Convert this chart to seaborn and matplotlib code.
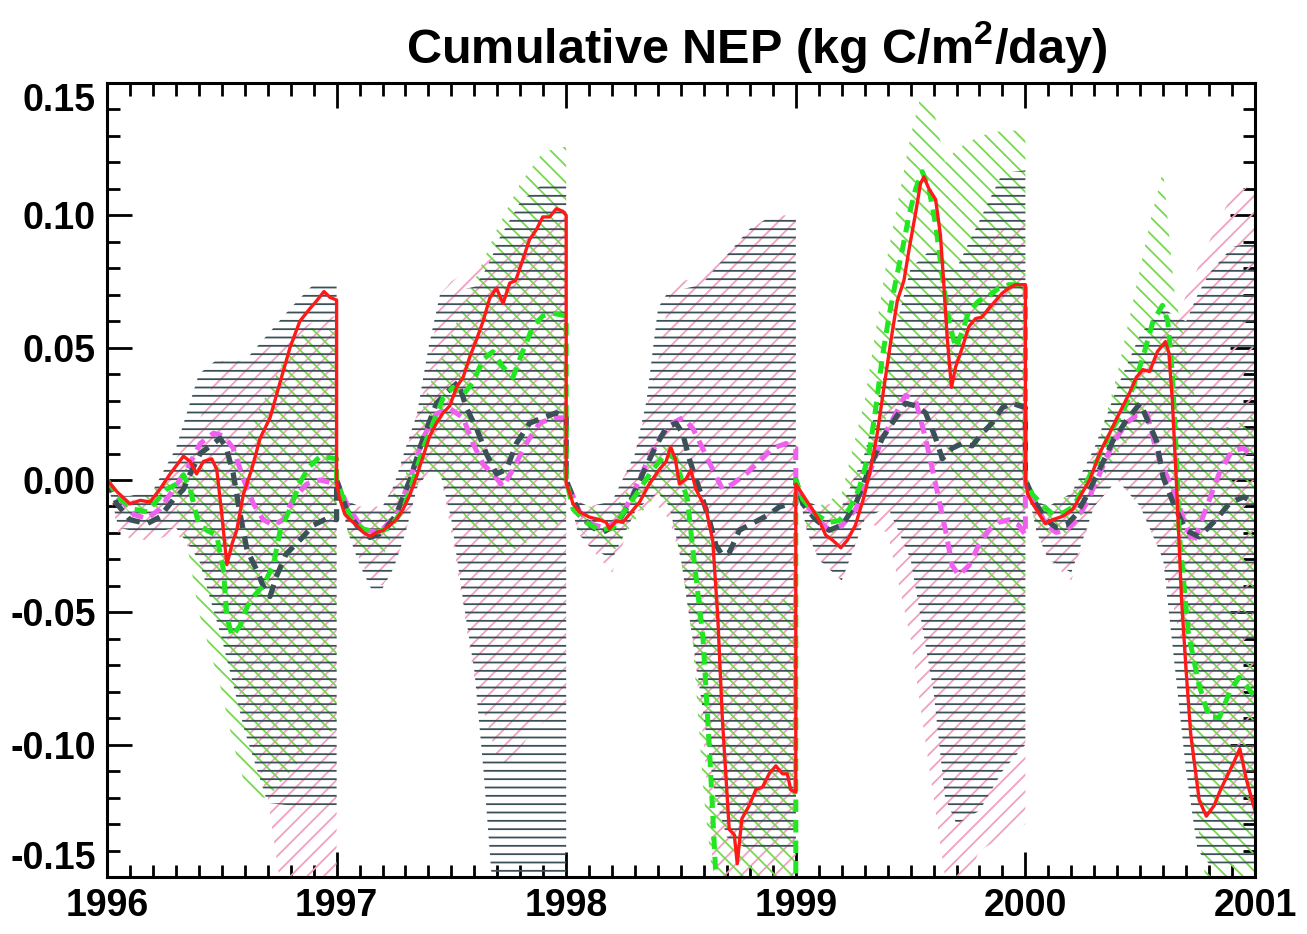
import numpy as np
import pandas as pd
import matplotlib
matplotlib.use("Agg")
import matplotlib.pyplot as plt
import seaborn as sns
from matplotlib.ticker import MultipleLocator


def seg(year, offsets):
    return [year + t for t in offsets]


# ---------------- line series (time, value) ----------------
RED_T = (seg(1996, [0, .043, .10, .145, .188, .23, .275, .333, .362, .39, .42, .456, .478, .50, .522, .545, .565, .594, .63, .667, .71, .754, .797, .84, .884, .913, .945, .971, 1.0])
         + seg(1997, [0, .01, .036, .058, .087, .116, .145, .174, .203, .232, .26, .29, .32, .348, .377, .406, .435, .464, .493, .522, .551, .58, .609, .638, .667, .696, .725, .754, .78, .81, .84, .87, .898, .928, .957, .986, 1.0])
         + seg(1998, [0, .03, .058, .10, .145, .174, .188, .217, .246, .275, .32, .362, .406, .435, .455, .475, .493, .522, .543, .565, .609, .638, .66, .68, .71, .732, .745, .765, .797, .826, .855, .884, .913, .942, .963, .978, 1.0])
         + seg(1999, [0, .015, .043, .072, .10, .13, .16, .196, .225, .26, .297, .326, .355, .384, .413, .442, .471, .493, .522, .543, .558, .58, .609, .630, .645, .659, .678, .696, .725, .754, .783, .81, .84, .87, .899, .928, .957, 1.0])
         + seg(2000, [0, .01, .032, .061, .087, .119, .163, .207, .25, .28, .323, .367, .41, .454, .483, .512, .541, .575, .61, .625, .64, .66, .68, .70, .72, .757, .788, .822, .85, .878, .906, .934, .962, 1.0]))
RED_V = ([0, -.0044, -.009, -.0077, -.0083, -.0035, .0023, .009, .007, .0023, .007, .008, .004, -.013, -.032, -.024, -.019, -.0054, .004, .0158, .0235, .037, .050, .060, .0648, .0677, .0712, .0690, .068]
         + [0, -.006, -.013, -.015, -.017, -.0198, -.0213, -.0198, -.019, -.017, -.015, -.011, -.0054, .0013, .009, .0167, .0215, .0254, .028, .035, .0388, .0465, .053, .060, .0687, .0725, .0667, .0744, .0754, .083, .0908, .0946, .0994, .0994, .1025, .1015, .100]
         + [-.001, -.009, -.012, -.014, -.015, -.016, -.0185, -.0154, -.016, -.013, -.0083, -.0015, .004, .007, .0125, .008, -.0015, .0004, .0038, -.0035, -.011, -.0227, -.0515, -.09, -.132, -.134, -.145, -.128, -.123, -.117, -.116, -.111, -.108, -.111, -.111, -.117, -.118]
         + [-.0015, -.0035, -.0073, -.011, -.015, -.0208, -.0227, -.0256, -.0227, -.017, -.0063, .0042, .0177, .035, .052, .0677, .0754, .087, .101, .112, .1145, .110, .106, .0925, .0735, .0542, .035, .0427, .050, .058, .061, .0615, .0648, .0677, .0706, .0725, .0738, .0738]
         + [0, -.0054, -.009, -.013, -.0165, -.015, -.0137, -.011, -.0044, 0, .01, .0177, .0254, .033, .0388, .0417, .041, .0485, .0523, .048, .030, -.005, -.045, -.072, -.096, -.121, -.127, -.123, -.117, -.112, -.107, -.1015, -.113, -.125])

GREEN_T = (seg(1996, [0, .058, .116, .174, .26, .304, .333, .362, .40, .435, .478, .507, .522, .545, .58, .61, .638, .68, .725, .754, .797, .84, .88, .93, 1.0])
           + seg(1997, [0, .058, .116, .174, .232, .29, .333, .377, .42, .464, .507, .55, .594, .638, .68, .725, .768, .81, .855, .898, .942, 1.0])
           + seg(1998, [0, .03, .087, .145, .203, .26, .32, .377, .435, .478, .507, .528, .55, .57, .596, .626, .652, .67, .75, 1.0])
           + seg(1999, [0, .03, .087, .145, .188, .232, .275, .319, .348, .377, .406, .435, .464, .493, .522, .551, .58, .609, .638, .667, .696, .725, .754, .797, .84, .884, .928, 1.0])
           + seg(2000, [0, .03, .076, .12, .163, .207, .25, .294, .338, .381, .425, .469, .512, .556, .597, .62, .64, .66, .67, .71, .755, .80, .845, .89, .93, .965, 1.0]))
GREEN_V = ([0, -.0073, -.011, -.012, -.0035, -.0015, .002, -.0035, -.017, -.019, -.021, -.034, -.0515, -.059, -.055, -.048, -.044, -.040, -.032, -.019, -.011, -.001, .005, .009, .008]
           + [0, -.014, -.0185, -.0198, -.018, -.011, 0, .012, .0215, .031, .035, .032, .037, .0456, .0485, .0427, .0388, .0485, .058, .062, .063, .062]
           + [0, -.011, -.016, -.019, -.018, -.011, -.0035, .004, .010, .008, -.0015, -.0073, -.025, -.040, -.060, -.105, -.150, -.170, -.190, -.190]
           + [0, -.0073, -.013, -.016, -.0154, -.011, -.0035, .010, .027, .0465, .062, .075, .087, .100, .110, .1165, .110, .0965, .077, .060, .050, .056, .0638, .0677, .0696, .0725, .0738, .0738]
           + [0, -.0054, -.0096, -.013, -.0125, -.0102, -.0035, .004, .012, .0196, .026, .035, .0465, .060, .066, .060, .040, .005, -.020, -.058, -.077, -.0897, -.0897, -.080, -.0746, -.078, -.082])

SLATE_T = (seg(1996, [0, .043, .10, .174, .23, .29, .333, .362, .406, .45, .493, .52, .55, .58, .61, .652, .68, .71, .74, .78, .84, .90, .957, 1.0])
           + seg(1997, [0, .043, .087, .145, .203, .26, .319, .377, .435, .478, .53, .565, .609, .652, .696, .74, .783, .841, .899, .957, 1.0])
           + seg(1998, [0, .058, .116, .159, .217, .275, .333, .391, .435, .478, .507, .536, .58, .623, .652, .681, .71, .754, .797, .841, .884, .928, .971, 1.0])
           + seg(1999, [0, .03, .087, .145, .203, .261, .319, .377, .435, .478, .522, .565, .609, .638, .681, .725, .768, .812, .855, .899, .942, 1.0])
           + seg(2000, [0, .046, .09, .134, .178, .222, .265, .323, .381, .44, .50, .57, .60, .65, .70, .757, .83, .89, .95, 1.0]))
SLATE_V = ([0, -.009, -.015, -.0165, -.014, -.0073, -.0035, .0023, .010, .0129, .0158, .012, .0023, -.013, -.0265, -.034, -.040, -.044, -.036, -.028, -.0227, -.017, -.0146, -.015]
           + [0, -.011, -.017, -.0217, -.0198, -.013, 0, .0158, .029, .033, .037, .0273, .0196, .010, .0023, .004, .0138, .0215, .0235, .0254, .0235]
           + [0, -.013, -.018, -.0198, -.017, -.009, .0023, .0129, .0196, .0215, .0177, .008, -.0035, -.015, -.0246, -.0285, -.0275, -.019, -.017, -.015, -.013, -.0102, -.009, -.009]
           + [0, -.009, -.015, -.019, -.017, -.009, .004, .0158, .0235, .029, .028, .0254, .0158, .008, .012, .0138, .0129, .0177, .0215, .0273, .029, .0273]
           + [0, -.009, -.015, -.018, -.017, -.013, -.0063, .004, .0148, .0225, .029, .015, .001, -.010, -.019, -.0215, -.015, -.0087, -.0064, -.0087])

MAGENTA_T = (seg(1996, [0, .058, .116, .174, .23, .29, .348, .406, .464, .507, .55, .594, .638, .68, .725, .768, .81, .87, .927, 1.0])
             + seg(1997, [0, .043, .116, .188, .26, .319, .377, .435, .493, .551, .594, .638, .681, .725, .768, .826, .884, .942, 1.0])
             + seg(1998, [0, .058, .116, .174, .232, .29, .348, .406, .464, .507, .551, .594, .638, .681, .725, .783, .841, .899, .957, 1.0])
             + seg(1999, [0, .03, .087, .145, .203, .261, .319, .377, .435, .478, .522, .565, .609, .652, .681, .71, .754, .797, .841, .884, .928, .971, 1.0])
             + seg(2000, [0, .046, .09, .134, .178, .222, .265, .323, .381, .44, .483, .53, .57, .61, .65, .69, .73, .79, .845, .90, .95, 1.0]))
MAGENTA_V = ([0, -.0073, -.013, -.0146, -.011, -.0035, .004, .0138, .0177, .0167, .012, .0004, -.009, -.015, -.017, -.015, -.0073, -.0015, 0, -.0015]
             + [0, -.009, -.019, -.0198, -.013, 0, .016, .025, .027, .0235, .0138, .006, .0023, -.0025, .004, .0138, .0215, .0235, .0235]
             + [0, -.012, -.017, -.018, -.015, -.0054, .006, .0158, .0215, .0235, .0196, .012, .004, -.0035, -.0015, .0023, .007, .012, .0138, .012]
             + [-.003, -.0073, -.014, -.019, -.017, -.011, .0023, .0158, .025, .032, .030, .0158, -.0015, -.019, -.0323, -.036, -.0323, -.0246, -.019, -.016, -.015, -.017, -.0208]
             + [0, -.009, -.017, -.0198, -.019, -.015, -.009, .0023, .0138, .0215, .0244, .025, .011, .0027, -.005, -.015, -.024, -.010, .0027, .011, .012, .008])

# ---------------- ensemble ranges (time, low, high) ----------------
GRAY_T = (seg(1996, [0, .05, .1, .2, .3, .4, .5, .6, .7, .8, .9, 1.0])
          + seg(1997, [0, .05, .1, .15, .2, .25, .3, .35, .4, .45, .5, .55, .6, .64, .68, .7, .8, .9, 1.0])
          + seg(1998, [0, .05, .1, .2, .3, .35, .4, .45, .5, .55, .6, .65, .7, .8, .9, 1.0])
          + seg(1999, [0, .05, .1, .2, .3, .4, .5, .6, .65, .7, .8, .9, 1.0])
          + seg(2000, [0, .05, .1, .2, .3, .4, .5, .6, .65, .7, .75, .8, .9, 1.0]))
GRAY_HI = ([0, -.006, -.006, -.004, .012, .040, .047, .045, .055, .065, .074, .075]
           + [0, -.008, -.010, -.010, -.010, -.002, .012, .025, .050, .070, .072, .072, .073, .078, .085, .090, .105, .112, .112]
           + [0, -.008, -.010, -.008, .010, .030, .065, .072, .072, .073, .075, .080, .085, .095, .100, .100]
           + [0, -.008, -.010, -.010, .010, .045, .080, .088, .082, .080, .098, .116, .117]
           + [0, -.008, -.010, -.005, .012, .035, .055, .065, .062, .060, .070, .078, .088, .090])
GRAY_LO = ([0, -.018, -.019, -.020, -.018, -.030, -.060, -.095, -.122, -.123, -.123, -.123]
           + [0, -.020, -.032, -.041, -.041, -.033, -.020, -.003, .003, .003, -.015, -.045, -.072, -.110, -.155, -.160, -.160, -.160, -.160]
           + [0, -.020, -.025, -.030, -.012, -.008, -.005, -.010, -.030, -.060, -.090, -.120, -.135, -.140, -.140, -.140]
           + [0, -.020, -.030, -.038, -.015, -.010, -.030, -.080, -.120, -.130, -.125, -.110, -.100]
           + [0, -.020, -.030, -.035, -.010, 0, -.010, -.030, -.070, -.110, -.140, -.145, -.145, -.145])

GREENBAND_T = (seg(1996, [0, .1, .2, .25, .3, .35, .4, .45, .5, .55, .6, .65, .7, .75, .8, .85, .9, .95, 1.0])
               + seg(1997, [0, .05, .1, .2, .3, .4, .5, .6, .7, .8, .9, 1.0])
               + seg(1998, [0, .05, .1, .2, .3, .4, .45, .5, .55, .6, .65, .7, .8, .9, 1.0])
               + seg(1999, [0, .05, .1, .2, .3, .4, .5, .55, .6, .65, .7, .8, .9, 1.0])
               + seg(2000, [0, .05, .1, .2, .3, .4, .5, .55, .6, .65, .7, .75, .8, .9, 1.0]))
GREENBAND_HI = ([0, -.009, -.004, -.001, .000, .005, .005, .005, .006, .010, .015, .025, .033, .042, .050, .055, .058, .058, .055]
                + [0, -.008, -.012, -.012, .002, .035, .055, .075, .095, .112, .124, .126]
                + [0, -.008, -.010, -.012, .000, .012, .015, .010, -.002, -.015, -.030, -.035, -.045, -.045, -.045]
                + [0, -.008, -.010, -.005, .030, .085, .130, .147, .140, .120, .125, .130, .132, .132]
                + [0, -.008, -.010, -.005, .008, .040, .080, .100, .117, .070, .050, .025, .020, .020, .025])
GREENBAND_LO = ([0, -.013, -.012, -.008, -.010, -.025, -.050, -.065, -.080, -.100, -.115, -.120, -.120, -.115, -.110, -.105, -.100, -.095, -.095]
                + [0, -.020, -.027, -.029, -.010, .005, -.005, -.020, -.030, -.025, -.020, -.015]
                + [0, -.018, -.022, -.028, -.015, -.005, -.010, -.030, -.060, -.120, -.160, -.160, -.160, -.160, -.160]
                + [0, -.018, -.020, -.020, .000, .025, .035, .035, .025, .015, -.005, -.030, -.045, -.050]
                + [0, -.018, -.020, -.020, -.005, .010, .020, .025, .020, -.020, -.080, -.130, -.160, -.160, -.160])

PINK_T = (seg(1996, [0, .05, .1, .2, .3, .4, .5, .6, .7, .75, .8, .9, 1.0])
          + seg(1997, [0, .05, .1, .15, .2, .25, .3, .35, .4, .45, .5, .55, .6, .7, .75, .85, 1.0])
          + seg(1998, [0, .05, .1, .2, .3, .4, .45, .5, .55, .6, .65, .7, .8, .9, 1.0])
          + seg(1999, [0, .05, .1, .2, .3, .4, .5, .6, .65, .7, .8, .9, 1.0])
          + seg(2000, [0, .05, .1, .2, .3, .4, .5, .6, .65, .7, .8, .9, 1.0]))
PINK_HI = ([0, -.006, -.008, -.005, .008, .022, .045, .045, .050, .052, .055, .060, .062]
           + [0, -.008, -.010, -.010, -.010, -.002, .010, .025, .040, .070, .075, .078, .080, .085, .087, .092, .100]
           + [0, -.008, -.010, -.008, .010, .045, .070, .075, .076, .078, .082, .088, .095, .100, .100]
           + [0, -.008, -.010, -.008, .010, .030, .050, .065, .070, .075, .085, .095, .098]
           + [0, -.008, -.010, -.005, .010, .025, .040, .055, .058, .070, .090, .108, .112])
PINK_LO = ([0, -.020, -.022, -.023, -.020, -.030, -.050, -.090, -.120, -.150, -.160, -.160, -.160]
           + [0, -.020, -.030, -.038, -.040, -.033, -.020, -.003, .003, .003, -.020, -.047, -.075, -.105, -.108, -.095, -.085]
           + [0, -.020, -.025, -.035, -.012, -.010, -.015, -.030, -.060, -.100, -.160, -.160, -.160, -.160, -.160]
           + [0, -.020, -.030, -.038, -.015, -.020, -.060, -.120, -.150, -.160, -.140, -.135, -.130]
           + [0, -.020, -.030, -.038, -.010, 0, -.010, -.030, -.050, -.070, -.100, -.120, -.130])

X_TICKS = [1996, 1997, 1998, 1999, 2000, 2001]
X_LABELS = ["1996", "1997", "1998", "1999", "2000", "2001"]
Y_TICKS = [-0.15, -0.10, -0.05, 0.00, 0.05, 0.10, 0.15]
Y_LABELS = ["-0.15", "-0.10", "-0.05", "0.00", "0.05", "0.10", "0.15"]
TITLE = r"Cumulative NEP (kg C/m$^{\mathbf{2}}$/day)"

# ---------------- style ----------------
sns.set_theme(style="white")
plt.rcParams["font.family"] = ["Liberation Sans", "DejaVu Sans"]
plt.rcParams["font.weight"] = "bold"
plt.rcParams["text.color"] = "black"
plt.rcParams["hatch.linewidth"] = 1.3
plt.rcParams["mathtext.fontset"] = "custom"
plt.rcParams["mathtext.rm"] = "Liberation Sans:bold"
plt.rcParams["mathtext.bf"] = "Liberation Sans:bold"
plt.rcParams["mathtext.it"] = "Liberation Sans:bold"

SLATE = "#3b5157"
GREEN_LINE = "#22e622"
GREEN_HATCH = "#78d850"
PINK_HATCH = "#f2a0c2"
MAGENTA = "#f060ee"
RED = "#ff1a1a"

fig = plt.figure(figsize=(13.07, 9.34), dpi=100)
ax = fig.add_axes([107 / 1307, 1 - 877 / 934, (1255 - 107) / 1307, (877 - 83) / 934])

ax.fill_between(PINK_T, PINK_LO, PINK_HI, facecolor="none", edgecolor=PINK_HATCH, hatch="//", linewidth=0)
ax.fill_between(GREENBAND_T, GREENBAND_LO, GREENBAND_HI, facecolor="none", edgecolor=GREEN_HATCH, hatch="\\\\", linewidth=0)
ax.fill_between(GRAY_T, GRAY_LO, GRAY_HI, facecolor="none", edgecolor=SLATE, hatch="--", linewidth=0)

dash = (0, (2.5, 1.6))
sns.lineplot(x=MAGENTA_T, y=MAGENTA_V, sort=False, estimator=None, color=MAGENTA, linewidth=3.6, linestyle=dash, ax=ax)
sns.lineplot(x=SLATE_T, y=SLATE_V, sort=False, estimator=None, color=SLATE, linewidth=3.8, linestyle=dash, ax=ax)
sns.lineplot(x=GREEN_T, y=GREEN_V, sort=False, estimator=None, color=GREEN_LINE, linewidth=3.6, linestyle=dash, ax=ax)
sns.lineplot(x=RED_T, y=RED_V, sort=False, estimator=None, color=RED, linewidth=2.4, ax=ax)

ax.set_xlim(1996, 2001)
ax.set_ylim(-0.15, 0.15)
ax.set_xticks(X_TICKS)
ax.set_xticklabels(X_LABELS)
ax.set_yticks(Y_TICKS)
ax.set_yticklabels(Y_LABELS)
ax.xaxis.set_minor_locator(MultipleLocator(0.1))
ax.yaxis.set_minor_locator(MultipleLocator(0.01))
ax.tick_params(which="both", direction="in", top=True, right=True, bottom=True, left=True,
               width=2.0, color="black")
ax.tick_params(which="major", length=18, labelsize=27, pad=8, labelcolor="black")
ax.tick_params(which="minor", length=9)
ax.set_xlabel("")
ax.set_ylabel("")
for lab in ax.get_xticklabels() + ax.get_yticklabels():
    lab.set_fontweight("bold")
ylabs = ax.get_yticklabels()
ylabs[0].set_va("bottom")
ylabs[-1].set_va("top")
for s in ax.spines.values():
    s.set_color("black")
    s.set_linewidth(2.2)

fig.text(757 / 1307, 1 - 63 / 934, TITLE, ha="center", va="baseline", fontsize=35,
         fontweight="bold", color="black")

fig.savefig("out.png", dpi=100)
